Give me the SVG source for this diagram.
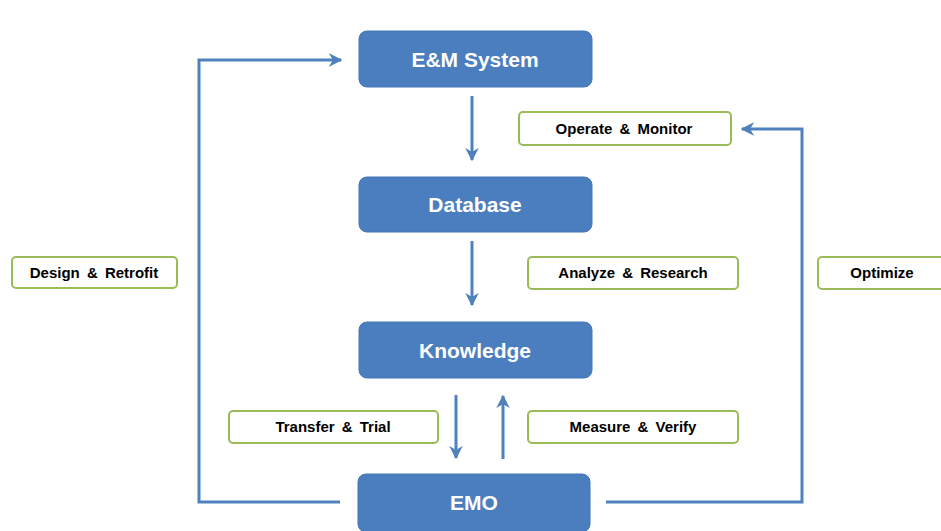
<svg xmlns="http://www.w3.org/2000/svg" width="941" height="531" viewBox="0 0 941 531">
<style>
.node rect{fill:#4A7EBF;stroke:#4476B5;stroke-width:1}
.node text{font-family:"Liberation Sans",Arial,sans-serif;font-weight:bold;font-size:21px;fill:#ffffff;text-anchor:middle}
.lbl rect{fill:#ffffff;stroke:#9BBB59;stroke-width:2}
.lbl text{font-family:"Liberation Sans",Arial,sans-serif;font-weight:bold;font-size:15px;word-spacing:3px;fill:#000000;text-anchor:middle}
.conn path{fill:none;stroke:#4F81BD;stroke-width:3}
</style>
<defs>
<marker id="ah" viewBox="0 0 10 10" refX="9" refY="5" markerWidth="4.5" markerHeight="4.5" orient="auto" markerUnits="strokeWidth">
<path d="M0,0 L10,5 L0,10 L3,5 Z" fill="#4F81BD"/>
</marker>
</defs>
<rect width="941" height="531" fill="#ffffff"/>
<g class="conn">
<path d="M472,96 L472,160" marker-end="url(#ah)"/>
<path d="M472,241 L472,305" marker-end="url(#ah)"/>
<path d="M456,395 L456,458" marker-end="url(#ah)"/>
<path d="M503,459 L503,396" marker-end="url(#ah)"/>
<path d="M340,502 L199,502 L199,60 L341,60" marker-end="url(#ah)"/>
<path d="M606,502 L802,502 L802,129 L742,129" marker-end="url(#ah)"/>
</g>
<g id="em" class="node"><rect x="359" y="31" width="233" height="56" rx="8"/><text x="475" y="67">E&amp;M System</text></g>
<g id="db" class="node"><rect x="359" y="177" width="233" height="55" rx="8"/><text x="475" y="212">Database</text></g>
<g id="kn" class="node"><rect x="359" y="322" width="233" height="56" rx="8"/><text x="475" y="358">Knowledge</text></g>
<g id="emo" class="node"><rect x="358" y="474" width="232" height="58" rx="8"/><text x="474" y="510">EMO</text></g>
<g id="l-op" class="lbl"><rect x="519" y="112" width="212" height="33" rx="4"/><text x="624" y="134">Operate &amp; Monitor</text></g>
<g id="l-an" class="lbl"><rect x="528" y="257" width="210" height="32" rx="4"/><text x="633" y="278">Analyze &amp; Research</text></g>
<g id="l-opt" class="lbl"><rect x="818" y="257" width="130" height="32" rx="4"/><text x="882" y="278">Optimize</text></g>
<g id="l-de" class="lbl"><rect x="12" y="257" width="165" height="31" rx="4"/><text x="94" y="278">Design &amp; Retrofit</text></g>
<g id="l-tr" class="lbl"><rect x="229" y="411" width="209" height="32" rx="4"/><text x="333" y="432">Transfer &amp; Trial</text></g>
<g id="l-me" class="lbl"><rect x="528" y="411" width="210" height="32" rx="4"/><text x="633" y="432">Measure &amp; Verify</text></g>
</svg>
